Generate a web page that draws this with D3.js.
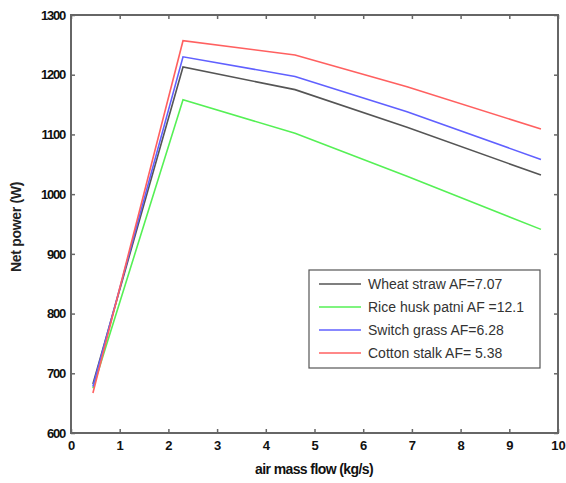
<!DOCTYPE html>
<html>
<head>
<meta charset="utf-8">
<script src="https://cdn.jsdelivr.net/npm/d3@7"></script>
<style>
  body { margin: 0; background: #fff; }
  svg { font-family: "Liberation Sans", Arial, sans-serif; }
</style>
</head>
<body>
<svg class="graph"></svg>
<script>
const airFlow = [0.45, 2.3, 4.6, 6.9, 9.65];
const seriesNames = ["Wheat straw AF=7.07", "Rice husk patni AF =12.1", "Switch grass AF=6.28", "Cotton stalk AF= 5.38"];
const wheat = [682, 1213, 1175, 1112, 1032];
const rice = [675, 1158, 1102, 1030, 941];
const switchGrass = [678, 1230, 1197, 1138, 1058];
const cotton = [667, 1257, 1233, 1180, 1109];
const seriesColors = ["#555555", "#55f055", "#6060ff", "#ff6060"];
const xTicks = [0, 1, 2, 3, 4, 5, 6, 7, 8, 9, 10];
const yTicks = [600, 700, 800, 900, 1000, 1100, 1200, 1300];

const width = 566;
const height = 483;
const margin = { top: 15, right: 8, bottom: 50, left: 71 };

const svg = d3.select(".graph")
    .attr("width", width)
    .attr("height", height);

const x = d3.scaleLinear().domain([0, 10]).range([margin.left, width - margin.right]);
const y = d3.scaleLinear().domain([600, 1300]).range([height - margin.bottom, margin.top]);

const axisColor = "#666";

// frame
svg.append("rect")
    .attr("x", x(0)).attr("y", y(1300))
    .attr("width", x(10) - x(0)).attr("height", y(600) - y(1300))
    .attr("fill", "none").attr("stroke", axisColor).attr("stroke-width", 2);

// ticks inward on all sides
const tickLen = 4;
const styleAxis = g => {
  g.select(".domain").remove();
  g.selectAll(".tick line").attr("stroke", axisColor).attr("stroke-width", 1.5);
  g.selectAll(".tick text")
      .attr("fill", "#111")
      .attr("font-size", 13)
      .attr("font-weight", "bold");
};

svg.append("g")
    .attr("transform", `translate(0,${y(600)})`)
    .call(d3.axisBottom(x).tickValues(xTicks).tickSize(-tickLen).tickPadding(8).tickFormat(d3.format("d")))
    .call(styleAxis);
svg.append("g")
    .attr("transform", `translate(0,${y(1300)})`)
    .call(d3.axisTop(x).tickValues(xTicks).tickSize(-tickLen).tickFormat(""))
    .call(styleAxis);
svg.append("g")
    .attr("transform", `translate(${x(0)},0)`)
    .call(d3.axisLeft(y).tickValues(yTicks).tickSize(-tickLen).tickPadding(6).tickFormat(d3.format("d")))
    .call(styleAxis)
    .selectAll(".tick text").attr("letter-spacing", -1.2);
svg.append("g")
    .attr("transform", `translate(${x(10)},0)`)
    .call(d3.axisRight(y).tickValues(yTicks).tickSize(-tickLen).tickFormat(""))
    .call(styleAxis);

// lines
const allSeries = [wheat, rice, switchGrass, cotton];
const line = d3.line().x((d, i) => x(airFlow[i])).y(d => y(d));
svg.append("g").selectAll("path")
    .data(allSeries)
    .enter()
  .append("path")
    .attr("d", line)
    .attr("fill", "none")
    .attr("stroke", (d, i) => seriesColors[i])
    .attr("stroke-width", 1.6);

// axis labels
svg.append("text")
    .attr("x", 314)
    .attr("y", 474)
    .attr("text-anchor", "middle")
    .attr("font-size", 14)
    .attr("font-weight", "bold")
    .attr("letter-spacing", -0.6)
    .attr("fill", "#111")
    .text("air mass flow (kg/s)");

svg.append("text")
    .attr("transform", `translate(21,227) rotate(-90)`)
    .attr("text-anchor", "middle")
    .attr("font-size", 14)
    .attr("font-weight", "bold")
    .attr("letter-spacing", -0.3)
    .attr("fill", "#222")
    .text("Net power (W)");

// legend
const legend = svg.append("g").attr("transform", "translate(309,270)");
legend.append("rect")
    .attr("width", 231).attr("height", 98)
    .attr("fill", "#fff").attr("stroke", "#555").attr("stroke-width", 1.2);
const rows = legend.selectAll("g.row")
    .data(seriesNames)
    .enter()
  .append("g")
    .attr("class", "row")
    .attr("transform", (d, i) => `translate(0,${14 + i * 23})`);
rows.append("line")
    .attr("x1", 10).attr("x2", 52)
    .attr("stroke", (d, i) => seriesColors[i])
    .attr("stroke-width", 1.6);
rows.append("text")
    .attr("x", 59)
    .attr("dy", "0.35em")
    .attr("font-size", 14)
    .attr("fill", "#333")
    .text(d => d);
</script>
</body>
</html>
